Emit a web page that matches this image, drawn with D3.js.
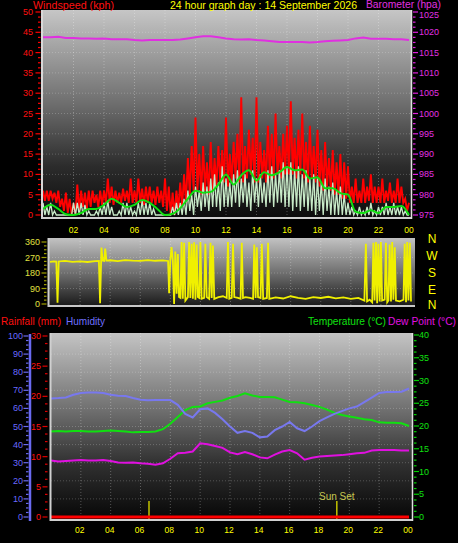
<!DOCTYPE html>
<html><head><meta charset="utf-8">
<script src="https://cdn.jsdelivr.net/npm/d3@7/dist/d3.min.js"></script>
<style>html,body{margin:0;padding:0;background:#000;overflow:hidden}</style>
</head><body><svg id="c" width="458" height="543" xmlns="http://www.w3.org/2000/svg"></svg>
<script>
// ---------------- DATA ----------------
const hourTickValues = [2,4,6,8,10,12,14,16,18,20,22,24];
const hourTickLabels = ["02","04","06","08","10","12","14","16","18","20","22","00"];
const windTicks = [0,5,10,15,20,25,30,35,40,45,50];
const baroTicks = [975,980,985,990,995,1000,1005,1010,1015,1020,1025];
const dirTicks = [0,90,180,270,360];
const compassLabels = ["N","W","S","E","N"];
const humTicks = [0,10,20,30,40,50,60,70,80,90,100];
const rainTicks = [0,5,10,15,20,25,30];
const tempTicks = [0,5,10,15,20,25,30,35,40];

// wind gust (kph), 15-minute bins: high and low readings within each bin
const gustHi = [6,6,6,5.5, 6,4,5.5,4, 3,7.5,6,5.5, 6,6,5,6, 6,9,7,6, 5.5,6.5,6,9, 6,9,6.5,7, 7,6,7,6, 9,7,5.5,6,
  8,10,14,17, 24,15,17,13, 18,14,17,16, 24,15,18,20, 29,17,21,19, 29,18,16,22, 20,25,17,20, 22,28,19,21,
  25,18,22,17, 21,16,18,14, 16,13,15,13, 12,7,9,6, 9,7,10,7, 7,9,6,8, 6,9,7,4];
const gustLo = [3.5,3.5,4,3, 2,1,0.5,0, 0,1,2,1.5, 2,3,2,2.5, 3,3,2.5,3, 3,3.5,3,3, 3,3,2.5,3, 3,2.5,3,2, 1,0,0,1.5,
  2,3,5,6, 6,5,6,5, 6,7,8,8, 7,8,9,8, 8,9,10,8, 8,9,8,9, 9,10,9,10, 10,10,9,10,
  9,8,9,8, 7,6,7,6, 5,5,4,4, 3,3,3,3, 3,3.5,3,3, 3,3,3.5,3, 3,3,3,1];
const gustEnd = 3;
// wind speed (kph), 15-minute bins
const speedHi = [3,2,3,1, 0,0,0,0, 3,3,3,2.5, 1,0,1,2, 3,3.5,2,0, 1,3,3,2, 1,3,3.5,3, 3,1.5,0,0, 0,0,2,3,
  3,4,6,5, 7,6,8,7, 9,10,8,12, 9,8,10,11, 9,10,8,11, 9,10,8,11, 12,10,11,13, 12,13,11,12,
  10,11,9,10, 9,8,9,7, 8,6,7,5, 3,2,1,2, 1,2,3,1, 2,2,3,2, 3,2,2,1];
const speedLo = [0,0,0,0, 0,0,0,0, 0,0,0,0, 0,0,0,0, 0,0,0,0, 0,0,0,0, 0,0,0,0, 0,0,0,0, 0,0,0,0,
  0,0,1,0, 2,1,2,1, 2,2,1,2, 2,2,3,2, 3,2,1,3, 2,3,2,3, 2,3,3,2, 2,1,2,1,
  2,1,1,0, 1,0,1,0, 0,0,0,0, 0,0,0,0, 0,0,0,0, 0,0,0,0, 0,0,0,0];
const speedEnd = 0;
// average wind speed (kph), every 30 minutes 00:00 .. 24:00
const windAvg = [1.5,2.5,1.5,0.2,0,0.5,1.5,1.5,2.5,4,3,2,2.5,3.7,3,1.5,0,0.3,1.7,4,6,5.5,5.7,7.5,10,7.5,9.8,11,8.5,10.5,
  9.8,10.5,11.8,11,11.2,9,9.3,6.6,6.6,5.4,5,0.8,0.5,1.2,0.5,2,2,2.2,0];
// barometer (hPa), every 30 minutes
const baro = [1018.8,1018.8,1018.9,1018.6,1018.6,1018.5,1018.5,1018.4,1018.5,1018.3,1018.3,1018.3,1018.1,1018.0,1018.1,1018.1,
  1018.1,1018.1,1018.2,1018.5,1018.8,1019.0,1019.0,1018.8,1018.5,1018.3,1018.2,1018.3,1018.1,1018.0,1017.8,1017.6,
  1017.6,1017.6,1017.6,1017.5,1017.6,1017.8,1017.9,1018.0,1018.1,1018.5,1018.7,1018.4,1018.4,1018.4,1018.3,1018.3,1018.1];
// wind direction readings: [hour, degrees]
const windDir = [
  [0,245],[0.25,248],[0.42,246],[0.5,8],[0.58,247],[1,250],[1.5,245],[2,248],[2.5,244],[3,249],[3.25,250],
  [3.33,4],[3.42,328],[3.5,252],[3.6,250],[3.67,322],[3.75,252],[4,254],[4.5,249],[5,255],[5.5,252],[6,250],
  [6.5,255],[7,251],[7.5,253],[7.85,250],[7.92,62],[8.0,255],[8.08,330],[8.17,250],[8.25,0],[8.33,305],[8.42,60],
  [8.5,290],[8.58,40],[8.67,35],[8.75,360],[8.83,30],[8.92,355],[9.0,20],[9.17,40],[9.25,360],[9.33,35],[9.42,350],
  [9.5,30],[9.58,358],[9.67,25],[9.75,345],[9.83,40],[9.92,35],[10.0,360],[10.08,30],[10.25,35],[10.33,350],[10.42,40],
  [10.58,30],[10.67,355],[10.75,35],[10.83,340],[10.92,30],[11.2,40],[11.5,45],[11.75,35],[11.83,360],[11.92,30],
  [12.08,35],[12.17,350],[12.25,40],[12.5,35],[12.67,30],[12.75,355],[12.83,35],[13.0,40],[13.3,35],[13.5,30],
  [13.58,345],[13.67,35],[13.75,330],[13.83,40],[14.0,35],[14.08,350],[14.17,30],[14.42,35],[14.5,355],[14.58,30],
  [15,38],[15.5,32],[16,45],[16.5,35],[17,30],[17.5,40],[18,35],[18.5,42],[19,33],[19.5,38],[20,30],[20.5,35],[20.9,20],
  [21.0,350],[21.08,15],[21.25,25],[21.42,10],[21.5,355],[21.58,20],[21.67,360],[21.75,5],[21.83,350],[21.92,15],
  [22.0,360],[22.08,20],[22.25,25],[22.33,355],[22.42,10],[22.5,20],[22.58,345],[22.67,15],[22.75,360],[22.83,25],
  [22.92,330],[23.0,20],[23.25,15],[23.5,25],[23.58,350],[23.67,10],[23.75,360],[23.83,20],[23.92,355],[24,15]
];
// humidity (%), temperature and dew point (°C), rainfall (mm), every 30 minutes
const humidity = [65.5,65.7,66,67.5,68.5,68.8,68.8,68.5,67.5,67,66.8,65.7,64.8,64.5,64.6,64.6,64.6,62,57,55,59.5,60,57.5,54,50,
  46.5,47.5,46.5,44,44.5,48,50,52.5,49,47.5,50,53,55,57,58.5,60,61,63.5,66,68.5,69,69,69.2,71];
const temperature = [18.8,18.9,18.8,18.9,18.9,18.8,18.8,18.9,19,18.9,18.8,18.6,18.7,18.7,18.8,19.3,20.5,22,23.5,24.2,24.3,25,25.3,25.6,
  26.2,26.6,27.2,26.7,26.4,26.4,26.3,25.8,25.3,25.2,25,24.6,24.2,23.6,22.9,22.4,22.1,21.8,21.5,21.3,20.8,20.7,20.7,20.6,20];
const dewPoint = [12.4,12.2,12.3,12.4,12.5,12.4,12.4,12.5,12.3,12,11.9,12,11.8,11.7,11.5,11.8,12.8,14,14.1,14.4,16.2,16,15.6,15.2,
  14.2,13.8,14.3,13.8,13.1,12.9,13.7,14.4,14.7,14,12.6,13,13.3,13.4,13.5,13.6,13.8,14,14.1,14.6,14.7,14.7,14.7,14.6,14.6];
const rainfall = [0,0,0,0,0,0,0,0,0,0,0,0,0,0,0,0,0,0,0,0,0,0,0,0,0,0,0,0,0,0,0,0,0,0,0,0,0,0,0,0,0,0,0,0,0,0,0,0,0];
const sunRise = 6.57, sunSet = 19.16;

// ---------------- SETUP ----------------
const FONT = "'Liberation Sans', Arial, sans-serif";
const svg = d3.select("#c");
const defs = svg.append("defs");
function grad(id, stops){
  const g = defs.append("linearGradient").attr("id",id).attr("x1",0).attr("y1",0).attr("x2",0).attr("y2",1);
  stops.forEach(s=>g.append("stop").attr("offset",s[0]).attr("stop-color",s[1]));
}
grad("gTop",[[0,"#c6c6c6"],[0.45,"#6e6e6e"],[0.75,"#2c2c2c"],[1,"#0c0c0c"]]);
grad("gMid",[[0,"#c2c2c2"],[0.5,"#707070"],[1,"#161616"]]);
grad("gBot",[[0,"#c4c4c4"],[0.4,"#727272"],[0.7,"#303030"],[1,"#060606"]]);

const halfHours = d3.range(49).map(i=>i*0.5);

function txt(x,y,s,fill,size,anchor,len){
  const t = svg.append("text").attr("x",x).attr("y",y).text(s).attr("fill",fill)
    .attr("font-size",size).attr("font-family",FONT).attr("text-anchor",anchor||"start");
  if(len) t.attr("textLength",len).attr("lengthAdjust","spacingAndGlyphs");
  return t;
}
function grid(g, x, xs, y, ys, x0,x1,y0,y1){
  xs.forEach(v=>g.append("line").attr("x1",x(v)).attr("x2",x(v)).attr("y1",y0).attr("y2",y1)
    .attr("stroke","#ffffff").attr("stroke-opacity",0.28).attr("stroke-dasharray","1,2"));
  ys.forEach(v=>g.append("line").attr("x1",x0).attr("x2",x1).attr("y1",y(v)).attr("y2",y(v))
    .attr("stroke","#ffffff").attr("stroke-opacity",0.22).attr("stroke-dasharray","1,2"));
}
function ticksAxis(scale, majors, nMinor, xLine, dir, color, labelColor, labelX, anchor, size, minY){
  const g = svg.append("g");
  for(let i=0;i<majors.length;i++){
    const v = majors[i];
    g.append("line").attr("x1",xLine).attr("x2",xLine+dir*5).attr("y1",scale(v)).attr("y2",scale(v))
      .attr("stroke",color).attr("stroke-width",1.2);
    if(i<majors.length-1){
      const step=(majors[i+1]-v)/nMinor;
      for(let k=1;k<nMinor;k++){
        const yy=scale(v+k*step);
        g.append("line").attr("x1",xLine).attr("x2",xLine+dir*2.5).attr("y1",yy).attr("y2",yy)
          .attr("stroke",color).attr("stroke-width",1.2);
      }
    }
    txt(labelX, Math.max(scale(v)+3, minY||0), String(v), labelColor, size||8.5, anchor);
  }
}
function zigzag(hi, lo, end){
  const pts=[];
  hi.forEach((v,i)=>{pts.push([i*0.25,v]); pts.push([i*0.25+0.125,lo[i]]);});
  pts.push([24,end]);
  return pts;
}

// ---------------- TOP PANEL ----------------
const xTop = d3.scaleLinear().domain([0,24]).range([43,409]);
const yWind = d3.scaleLinear().domain([0,50]).range([215,12]);
const yBaro = d3.scaleLinear().domain([975,1025]).range([215,12]);
svg.append("rect").attr("x",42).attr("y",10).attr("width",370).attr("height",208).attr("fill","url(#gTop)");
grid(svg.append("g"), xTop, hourTickValues.slice(0,11), yWind, windTicks.slice(1,10), 43,411,10,217);

const lineW = d3.line().x(d=>xTop(d[0])).y(d=>yWind(d[1]));
svg.append("path").attr("d",lineW(zigzag(gustHi,gustLo,gustEnd))).attr("fill","none")
  .attr("stroke","#ff0000").attr("stroke-width",1.9);
svg.append("path").attr("d",lineW(zigzag(speedHi,speedLo,speedEnd))).attr("fill","none")
  .attr("stroke","#c8eac8").attr("stroke-width",1.3);
svg.append("path").attr("d",d3.line().x((d,i)=>xTop(halfHours[i])).y(d=>yWind(d)).curve(d3.curveMonotoneX)(windAvg))
  .attr("fill","none").attr("stroke","#10e010").attr("stroke-width",2);
svg.append("path").attr("d",d3.line().x((d,i)=>xTop(halfHours[i])).y(d=>yBaro(d))(baro))
  .attr("fill","none").attr("stroke","#e030e0").attr("stroke-width",2);
// frame
svg.append("line").attr("x1",42).attr("x2",42).attr("y1",10).attr("y2",219).attr("stroke","#d8d8d8").attr("stroke-width",2);
svg.append("line").attr("x1",41).attr("x2",412).attr("y1",218).attr("y2",218).attr("stroke","#d0d0d0").attr("stroke-width",2);
svg.append("line").attr("x1",411.5).attr("x2",411.5).attr("y1",10).attr("y2",219).attr("stroke","#e0e0e0").attr("stroke-width",1.5);
ticksAxis(yWind, windTicks, 4, 40.5, -1, "#ff0000", "#ff1010", 33, "end", 9);
ticksAxis(yBaro, baroTicks, 4, 413, 1, "#e020e0", "#e030e0", 419, "start", 9, 18);
hourTickValues.forEach((h,i)=>txt(xTop(h),232.5,hourTickLabels[i],"#ffff00",8.5,"middle"));
txt(33,9,"Windspeed (kph)","#ff1010",10.5,"start",81);
txt(170,9,"24 hour graph day : 14 September 2026","#ffff00",10.5,"start",187);
txt(366,8,"Barometer (hpa)","#e030e0",10,"start",75);

// ---------------- MIDDLE PANEL ----------------
const xMid = d3.scaleLinear().domain([0,24]).range([50,411]);
const yDir = d3.scaleLinear().domain([0,360]).range([304,242]);
svg.append("rect").attr("x",48).attr("y",238).attr("width",367).attr("height",69).attr("fill","url(#gMid)");
grid(svg.append("g"), xMid, hourTickValues.slice(0,11), yDir, [90,180,270], 49,414,238,306);
svg.append("path").attr("d",d3.line().x(d=>xMid(d[0])).y(d=>yDir(d[1]))(windDir))
  .attr("fill","none").attr("stroke","#f0f000").attr("stroke-width",1.8);
svg.append("line").attr("x1",48.5).attr("x2",48.5).attr("y1",238).attr("y2",307).attr("stroke","#d0d0d0").attr("stroke-width",2);
svg.append("line").attr("x1",48).attr("x2",415).attr("y1",306).attr("y2",306).attr("stroke","#c8c8c8").attr("stroke-width",2);
ticksAxis(yDir, dirTicks, 4, 46.5, -1, "#a0a000", "#e0e040", 40, "end", 9);
const compassY = [243,260,277,294,309];
compassLabels.forEach((c,i)=>txt(432,compassY[i],c,"#ffff00",12,"middle"));

// ---------------- BOTTOM PANEL ----------------
const xBot = d3.scaleLinear().domain([0,24]).range([51,409]);
const yHum = d3.scaleLinear().domain([0,100]).range([517,336]);
const yRain = d3.scaleLinear().domain([0,30]).range([517,336]);
const yTemp = d3.scaleLinear().domain([0,40]).range([517,335]);
svg.append("rect").attr("x",50).attr("y",333).attr("width",363).attr("height",187).attr("fill","url(#gBot)");
grid(svg.append("g"), xBot, hourTickValues.slice(0,11), yHum, humTicks.slice(1,10), 51,412,333,519);
const bl = (arr,ys)=>d3.line().x((d,i)=>xBot(halfHours[i])).y(d=>ys(d))(arr);
svg.append("path").attr("d",bl(dewPoint,yTemp)).attr("fill","none").attr("stroke","#e010e0").attr("stroke-width",2);
svg.append("path").attr("d",bl(temperature,yTemp)).attr("fill","none").attr("stroke","#10e010").attr("stroke-width",2);
svg.append("path").attr("d",bl(humidity,yHum)).attr("fill","none").attr("stroke","#7878ee").attr("stroke-width",2);
[sunRise,sunSet].forEach(h=>svg.append("line").attr("x1",xBot(h)).attr("x2",xBot(h)).attr("y1",501).attr("y2",519)
  .attr("stroke","#b8b800").attr("stroke-width",1.6));
txt(xBot(sunSet),500,"Sun Set","#c8c850",10,"middle");
svg.append("path").attr("d",bl(rainfall,yRain)).attr("fill","none").attr("stroke","#ff0000").attr("stroke-width",3);
svg.append("line").attr("x1",50.5).attr("x2",50.5).attr("y1",333).attr("y2",521).attr("stroke","#d0d0d0").attr("stroke-width",2);
svg.append("line").attr("x1",50).attr("x2",413).attr("y1",520).attr("y2",520).attr("stroke","#d0d0d0").attr("stroke-width",2);
svg.append("line").attr("x1",412.5).attr("x2",412.5).attr("y1",333).attr("y2",521).attr("stroke","#e0e0e0").attr("stroke-width",1.5);
// humidity axis
svg.append("line").attr("x1",30).attr("x2",30).attr("y1",334).attr("y2",521).attr("stroke","#6a6af0").attr("stroke-width",2.5);
ticksAxis(yHum, humTicks, 4, 28.5, -1, "#6a6af0", "#6a6aff", 23, "end", 9);
ticksAxis(yRain, rainTicks, 4, 47.5, -1, "#e00000", "#ff1010", 41, "end", 9);
ticksAxis(yTemp, tempTicks, 4, 414, 1, "#00d000", "#10e010", 419, "start", 9);
hourTickValues.forEach((h,i)=>txt(xBot(h)-1,533,hourTickLabels[i],"#ffff00",8.5,"middle"));
txt(1,325,"Rainfall (mm)","#ff1010",10.5,"start",60);
txt(66,325,"Humidity","#7070ff",10.5,"start",39);
txt(308,325,"Temperature (°C)","#10e010",10.3,"start",78);
txt(388,325,"Dew Point (°C)","#e010e0",10.2,"start",68);
</script></body></html>
